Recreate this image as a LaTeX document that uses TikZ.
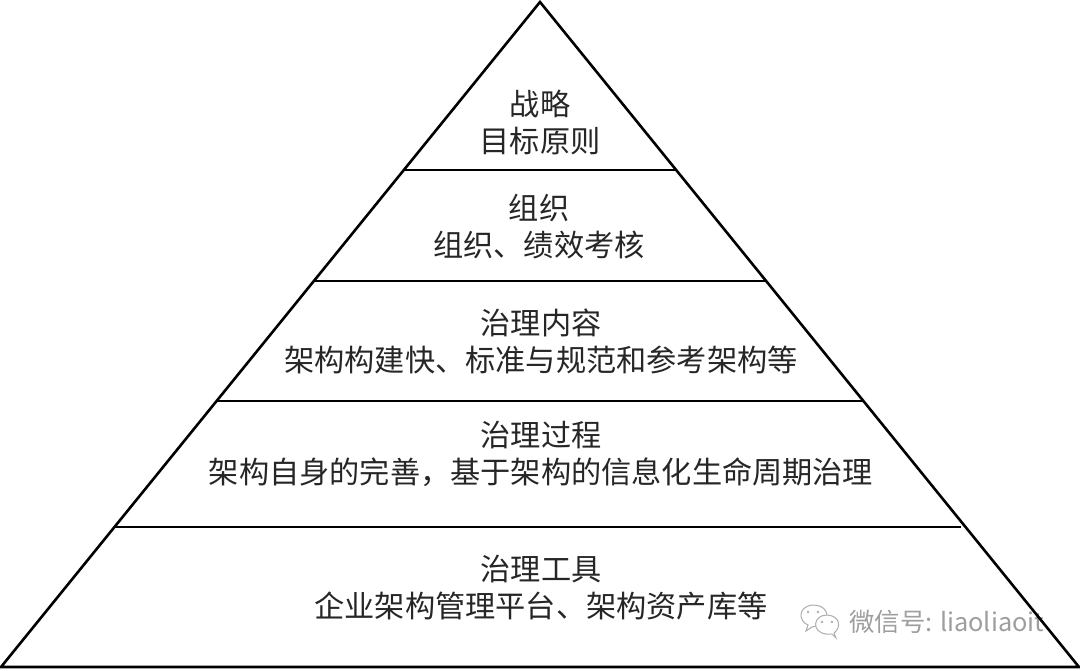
\documentclass[tikz,border=0pt]{standalone}
\usepackage{fontspec}
\newfontfamily\cjk{Noto Sans CJK SC}
\tikzset{lbl/.style={font=\cjk\fontsize{30.2pt}{37pt}\selectfont,align=center,text=black!85,inner sep=0pt},
edge/.style={draw=black,line width=2.6pt},
wm/.style={draw=black!32,line width=1pt,fill=white}}
\begin{document}
\begin{tikzpicture}[x=1pt,y=-1pt]
\useasboundingbox (0,0) rectangle (1080,670);
\coordinate (apex) at (540,2);
\coordinate (bl) at (1,667);
\coordinate (br) at (1079,667);
\coordinate (a1) at (405,170);
\coordinate (b1) at (675,170);
\coordinate (a2) at (314,281);
\coordinate (b2) at (766,281);
\coordinate (a3) at (216,401);
\coordinate (b3) at (864,401);
\coordinate (a4) at (115,527);
\coordinate (b4) at (961,527);
\node[font=\cjk\fontsize{25.4pt}{30pt}\selectfont,text=black!38,anchor=west,inner sep=0pt] (w) at (849,622) {微信号: liaoliaoit};
\draw[edge,line join=miter] (apex) -- (br) -- (bl) -- cycle;
\draw[edge] (a1) -- (b1);
\draw[edge] (a2) -- (b2);
\draw[edge] (a3) -- (b3);
\draw[edge] (a4) -- (b4);
\node[lbl] (t1) at (540,122.5) {战略\\目标原则};
\node[lbl] (t2) at (539,226.5) {组织\\组织、绩效考核};
\node[lbl] (t3) at (541,341.5) {治理内容\\架构构建快、标准与规范和参考架构等};
\node[lbl] (t4) at (541,454) {治理过程\\架构自身的完善，基于架构的信息化生命周期治理};
\node[lbl] (t5) at (541,588) {治理工具\\企业架构管理平台、架构资产库等};
% WeChat mark
\draw[wm] (806,631) -- (808,625) .. controls (798,621) and (798,606) .. (813,605) .. controls (826,605) and (830,615) .. (825,624) -- (812,627) -- cycle;
\fill[black!32] (808,612) circle (1.4) (818,612) circle (1.4);
\draw[wm] (836,638) -- (834,633) .. controls (841,628) and (841,616) .. (827,615) .. controls (813,615) and (811,632) .. (826,634) .. controls (829,634) and (831,634) .. (832,634) -- cycle;
\fill[black!32] (822,622) circle (1.3) (832,622) circle (1.3);
\end{tikzpicture}
\end{document}
